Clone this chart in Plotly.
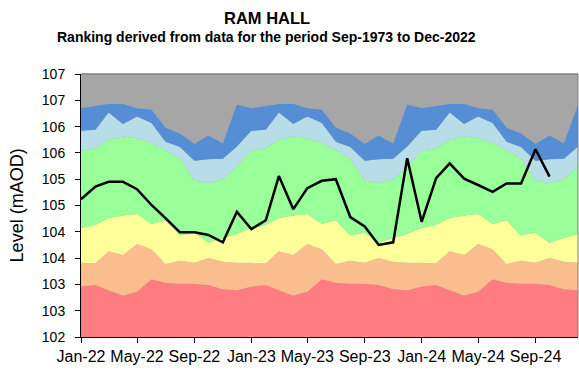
import plotly.graph_objects as go

# Monthly observation dates (first of month), Jan-2022 .. Dec-2024
months = [f"{y}-{m:02d}-01" for y in (2022, 2023, 2024) for m in range(1, 13)]

# Ranking band upper limits (mAOD) for each calendar month, Jan..Dec.
# The percentile bands are derived from the long-term record and repeat every year.
red_top = [102.96, 102.99, 102.89, 102.79, 102.86, 103.10, 103.03, 103.01, 103.01, 102.99, 102.91, 102.89]
orange_top = [103.41, 103.40, 103.63, 103.56, 103.77, 103.67, 103.39, 103.45, 103.41, 103.50, 103.43, 103.41]
yellow_top = [104.07, 104.13, 104.26, 104.31, 104.34, 104.15, 104.22, 103.93, 103.98, 103.79, 103.88, 103.96]
green_top = [105.54, 105.59, 105.75, 105.81, 105.78, 105.69, 105.55, 105.39, 104.97, 104.93, 105.00, 105.24]
lightblue_top = [105.92, 105.94, 106.27, 106.05, 106.19, 106.07, 105.71, 105.61, 105.35, 105.38, 105.39, 105.62]
blue_top = [106.35, 106.39, 106.43, 106.43, 106.35, 106.32, 105.98, 105.87, 105.67, 105.83, 105.68, 106.42]

# Observed groundwater level (mAOD), Jan-2022 .. Oct-2024
level = [104.62, 104.86, 104.95, 104.95, 104.81, 104.51, 104.26, 103.99, 103.99, 103.94, 103.80, 104.38,
         104.05, 104.22, 105.06, 104.43, 104.83, 104.97, 105.00, 104.28, 104.10, 103.75, 103.80, 105.40,
         104.19, 105.02, 105.30, 105.01, 104.89, 104.76, 104.92, 104.92, 105.57, 105.05]

n_years = len(months) // 12
bands = [
    (red_top, "rgb(255,124,128)"),
    (orange_top, "rgb(250,190,142)"),
    (yellow_top, "rgb(255,255,153)"),
    (green_top, "rgb(153,255,153)"),
    (lightblue_top, "rgb(183,222,232)"),
    (blue_top, "rgb(85,142,213)"),
]

FONT = "Liberation Sans, Arial, sans-serif"

fig = go.Figure()
for i, (tops, colour) in enumerate(bands):
    fig.add_trace(go.Scatter(
        x=months, y=tops * n_years, mode="lines",
        line=dict(width=0, color=colour),
        fill="tozeroy" if i == 0 else "tonexty",
        fillcolor=colour, hoverinfo="skip", showlegend=False,
    ))

fig.add_trace(go.Scatter(
    x=months[:len(level)], y=level, mode="lines",
    line=dict(color="black", width=2.5), showlegend=False,
))

fig.update_layout(
    width=579, height=372,
    margin=dict(l=81, r=1, t=74, b=35),
    paper_bgcolor="white",
    plot_bgcolor="rgb(166,166,166)",
    font=dict(family=FONT, color="black"),
    xaxis=dict(
        type="date", range=["2022-01-01", "2024-12-01"],
        tick0="2022-01-01", dtick="M4", tickformat="%b-%y",
        ticks="outside", ticklen=5, tickcolor="black",
        showline=True, linecolor="black", linewidth=1,
        showgrid=False, zeroline=False,
        tickfont=dict(size=16, family=FONT, color="black"),
    ),
    yaxis=dict(
        range=[102, 107], dtick=0.5, tick0=102, tickformat=".0f",
        ticks="outside", ticklen=5, tickcolor="black",
        showline=True, linecolor="black", linewidth=1,
        showgrid=False, zeroline=False, ticklabelstandoff=7,
        tickfont=dict(size=14, family=FONT, color="black"),
    ),
    shapes=[
        dict(type="line", xref="paper", yref="paper", x0=0, x1=1, y0=1, y1=1,
             line=dict(color="rgb(128,128,128)", width=1.5), layer="above"),
        dict(type="line", xref="paper", yref="paper", x0=1, x1=1, y0=0, y1=1,
             line=dict(color="rgb(128,128,128)", width=1), layer="above"),
    ],
    annotations=[
        dict(text="<b>RAM HALL</b>", xref="paper", yref="paper",
             x=0.374, y=1.213, xanchor="center", yanchor="middle",
             showarrow=False, font=dict(size=16.5, family=FONT, color="black")),
        dict(text="<b>Ranking derived from data for the period Sep-1973 to Dec-2022</b>",
             xref="paper", yref="paper", x=0.374, y=1.141,
             xanchor="center", yanchor="middle",
             showarrow=False, font=dict(size=14, family=FONT, color="black")),
        dict(text="Level (mAOD)", xref="paper", yref="paper",
             x=-0.129, y=0.5, xanchor="center", yanchor="middle", textangle=-90,
             showarrow=False, font=dict(size=18, family=FONT, color="black")),
    ],
)

fig.write_html("out.html")
